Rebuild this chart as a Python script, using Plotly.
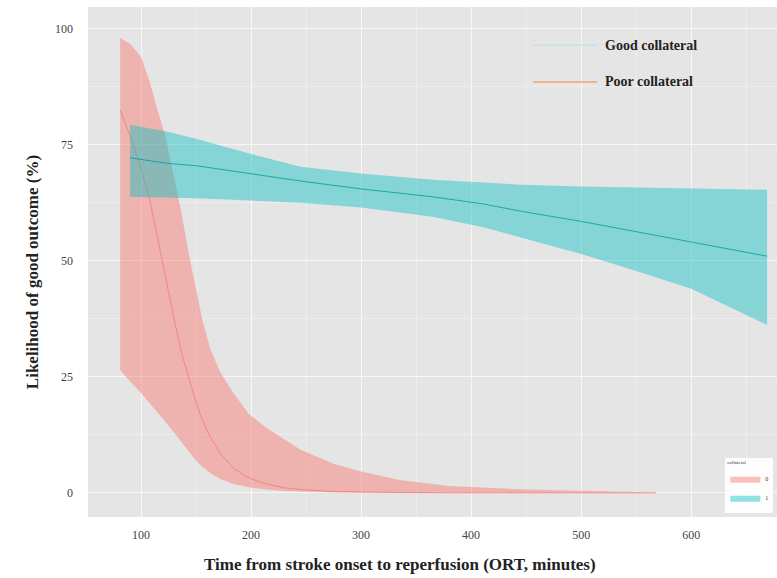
import plotly.graph_objects as go

# ---- data ----
poor_x = [81, 90, 100, 108, 115, 122, 130, 137, 143, 150, 156, 163, 172, 184, 198,
          214, 230, 245, 275, 300, 335, 380, 450, 520, 568]
poor_upper = [98, 96.8, 94, 88.5, 82.5, 77, 68, 60, 52, 44, 37, 31, 26, 21.5, 17,
              14, 11.5, 9.3, 6.3, 4.6, 2.8, 1.5, 0.7, 0.3, 0.1]
poor_lower = [26.5, 24, 21.5, 19.3, 17.3, 15.3, 13, 10.8, 9, 6.9, 5.6, 4.3, 3.0, 1.9, 1.2,
              0.7, 0.4, 0.25, 0.1, 0.05, 0, 0, 0, 0, 0]
poor_fit = [82.5, 77, 70, 63, 55, 46.5, 37.5, 30, 25, 19.5, 15.5, 12, 8.5, 5.3, 3.2,
            1.9, 1.1, 0.7, 0.3, 0.15, 0.08, 0.03, 0.01, 0, 0]

good_x = [90, 124, 150, 200, 245, 300, 365, 410, 445, 500, 550, 600, 669]
good_upper = [79.3, 77.8, 76.3, 73, 70.3, 68.8, 67.5, 66.8, 66.4, 66, 65.8, 65.6, 65.3]
good_lower = [63.8, 63.6, 63.5, 63, 62.5, 61.5, 59.5, 57.3, 55, 51.5, 47.8, 44, 36.2]
good_fit = [72.2, 71, 70.5, 68.8, 67.2, 65.5, 63.8, 62.3, 60.7, 58.5, 56.3, 54, 51]

x_ticks = [100, 200, 300, 400, 500, 600]
y_ticks = [0, 25, 50, 75, 100]
legend_labels = ["Good collateral", "Poor collateral"]
group_labels = ["0", "1"]

RED = "248,118,109"
CYAN = "0,191,196"
SERIF = "Liberation Serif, Times New Roman, serif"

fig = go.Figure()

# poor collateral band (group 0)
fig.add_trace(go.Scatter(x=poor_x, y=poor_lower, mode="lines", line=dict(width=0),
                         showlegend=False, hoverinfo="skip"))
fig.add_trace(go.Scatter(x=poor_x, y=poor_upper, mode="lines", line=dict(width=0),
                         fill="tonexty", fillcolor=f"rgba({RED},0.45)",
                         name=group_labels[0], legend="legend2", showlegend=True))
fig.add_trace(go.Scatter(x=poor_x, y=poor_fit, mode="lines",
                         line=dict(color=f"rgba({RED},0.75)", width=1), showlegend=False))

# good collateral band (group 1)
fig.add_trace(go.Scatter(x=good_x, y=good_lower, mode="lines", line=dict(width=0),
                         showlegend=False, hoverinfo="skip"))
fig.add_trace(go.Scatter(x=good_x, y=good_upper, mode="lines", line=dict(width=0),
                         fill="tonexty", fillcolor=f"rgba({CYAN},0.42)",
                         name=group_labels[1], legend="legend2", showlegend=True))
fig.add_trace(go.Scatter(x=good_x, y=good_fit, mode="lines",
                         line=dict(color="rgba(0,155,160,0.8)", width=1), showlegend=False))

# top legend drawn as paper-space shapes + text
legend_colors = ["#c9dfe8", "#f4a366"]
legend_y = [0.925, 0.853]
for lab, col, ly in zip(legend_labels, legend_colors, legend_y):
    fig.add_shape(type="line", xref="paper", yref="paper", x0=0.646, x1=0.739, y0=ly, y1=ly,
                  line=dict(color=col, width=1.5))
    fig.add_annotation(xref="paper", yref="paper", x=0.748, y=ly, text=f"<b>{lab}</b>",
                       showarrow=False, xanchor="left", yanchor="middle",
                       font=dict(family=SERIF, size=14, color="#222"))

# axis titles
fig.add_annotation(xref="paper", yref="paper", x=0.453, y=-0.094, yanchor="middle",
                   xanchor="center",
                   text="<b>Time from stroke onset to reperfusion (ORT, minutes)</b>",
                   showarrow=False, font=dict(family=SERIF, size=17, color="#222"))
fig.add_annotation(xref="paper", yref="paper", x=-0.0813, y=0.48, textangle=-90,
                   text="<b>Likelihood of good outcome (%)</b>", showarrow=False,
                   xanchor="center", yanchor="middle",
                   font=dict(family=SERIF, size=17, color="#222"))

fig.update_layout(
    width=777, height=578,
    margin=dict(l=88, r=0, t=7, b=61, autoexpand=False),
    paper_bgcolor="white", plot_bgcolor="#E5E5E5",
    font=dict(family=SERIF, size=12, color="#444"),
    showlegend=True,
    legend2=dict(x=0.925, y=0.116, xanchor="left", yanchor="top",
                 bgcolor="rgba(255,255,255,0.9)", borderwidth=0, traceorder="normal",
                 title=dict(text="collateral", font=dict(size=5, color="#333")),
                 font=dict(size=6, color="#333"), itemwidth=30, tracegroupgap=0),
    xaxis=dict(range=[51.8, 678], tickvals=x_ticks, ticktext=[str(v) for v in x_ticks],
               automargin=False,
               showgrid=True, gridcolor="rgba(255,255,255,0.55)", gridwidth=1,
               minor=dict(dtick=50, showgrid=True, gridcolor="rgba(255,255,255,0.3)", gridwidth=0.5),
               zeroline=False, showline=False, ticks="", ticklabelstandoff=9,
               tickfont=dict(family=SERIF, size=12, color="#444")),
    yaxis=dict(range=[-5.2, 104.7], tickvals=y_ticks, ticktext=[str(v) for v in y_ticks],
               automargin=False,
               showgrid=True, gridcolor="rgba(255,255,255,0.55)", gridwidth=1,
               minor=dict(dtick=12.5, showgrid=True, gridcolor="rgba(255,255,255,0.3)", gridwidth=0.5),
               zeroline=False, showline=False, ticks="", ticklabelstandoff=14,
               tickfont=dict(family=SERIF, size=12, color="#444")),
)

fig.write_html("out.html", config={"displayModeBar": False},
               post_script="document.body.style.margin='0';document.body.style.padding='0';")
